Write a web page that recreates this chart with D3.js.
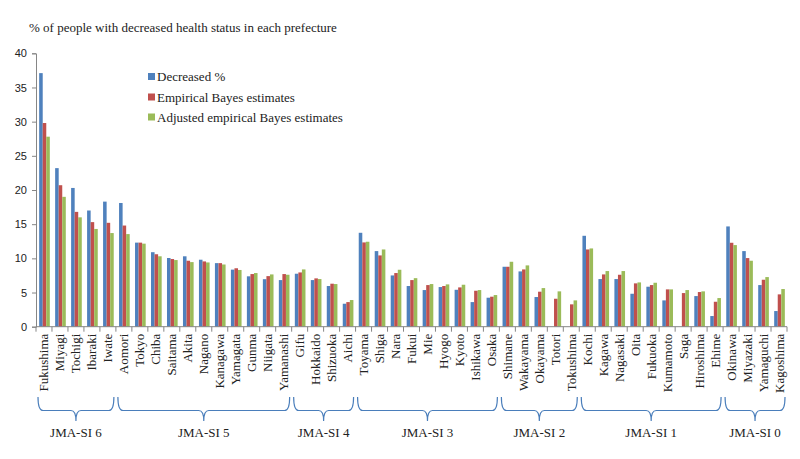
<!DOCTYPE html>
<html><head><meta charset="utf-8">
<script src="https://cdn.jsdelivr.net/npm/d3@7"></script>
<style>body{margin:0;background:#fff}svg{display:block}</style>
</head><body><svg id="c" width="800" height="459"></svg>
<script>
const categories = ["Fukushima","Miyagi","Tochigi","Ibaraki","Iwate","Aomori","Tokyo","Chiba","Saitama","Akita","Nagano","Kanagawa","Yamagata","Gunma","Niigata","Yamanashi","Gifu","Hokkaido","Shizuoka","Aichi","Toyama","Shiga","Nara","Fukui","Mie","Hyogo","Kyoto","Ishikawa","Osaka","Shimane","Wakayama","Okayama","Totori","Tokushima","Kochi","Kagawa","Nagasaki","Oita","Fukuoka","Kumamoto","Saga","Hiroshima","Ehime","Okinawa","Miyazaki","Yamaguchi","Kagoshima"];
const decreased = [37.1,23.2,20.3,17.0,18.3,18.1,12.3,10.9,10.05,10.3,9.8,9.3,8.35,7.37,6.95,6.82,7.75,6.82,5.95,3.36,13.74,11.06,7.5,5.95,5.36,5.8,5.4,3.6,4.24,8.77,8.09,4.34,0,0,13.3,6.97,6.97,4.82,5.85,3.85,0,4.48,1.56,14.67,11.06,6.09,2.29];
const ebEstimates = [29.8,20.7,16.8,15.3,15.2,14.8,12.3,10.6,9.9,9.65,9.55,9.3,8.55,7.7,7.4,7.7,7.94,7.07,6.29,3.6,12.33,10.43,7.85,6.82,6.09,5.95,5.75,5.26,4.39,8.77,8.38,5.12,4.09,3.27,11.3,7.65,7.6,6.34,6.09,5.46,4.92,5.07,3.65,12.28,10.04,6.87,4.73];
const adjEbEstimates = [27.8,19.0,16.0,14.3,13.7,13.55,12.15,10.3,9.75,9.45,9.4,9.1,8.3,7.85,7.65,7.6,8.38,6.97,6.24,3.9,12.43,11.3,8.33,7.1,6.24,6.19,6.14,5.36,4.63,9.5,8.97,5.65,5.17,3.85,11.45,8.14,8.14,6.48,6.43,5.46,5.36,5.17,4.19,11.94,9.65,7.26,5.51];
const seriesNames = ["Decreased %","Empirical Bayes estimates","Adjusted empirical Bayes estimates"];
const groupNames = ["JMA-SI 6","JMA-SI 5","JMA-SI 4","JMA-SI 3","JMA-SI 2","JMA-SI 1","JMA-SI 0"];
const groupFirst = ["Fukushima","Aomori","Gifu","Toyama","Shimane","Kochi","Okinawa"];
const groupLast = ["Iwate","Yamanashi","Aichi","Osaka","Tokushima","Ehime","Kagoshima"];
const yTicks = [0,5,10,15,20,25,30,35,40];
const titleText = "% of people with decreased health status in each prefecture";

const colors = ["#4F81BD","#C0504D","#9BBB59"];
const svg = d3.select("#c");
const mLeft = 36, mRight = 787, mTop = 53.3, mBottom = 326.7;
const serif = "'Liberation Serif','Times New Roman',serif";
const sans = "'Liberation Sans',Arial,sans-serif";

const x = d3.scaleBand().domain(categories).range([mLeft, mRight]).paddingInner(0).paddingOuter(0);
const y = d3.scaleLinear().domain([0, 40]).range([mBottom, mTop]);
const x1 = d3.scaleBand().domain(seriesNames).range([0, x.bandwidth()]).paddingOuter(0.75).paddingInner(0);

const data = [decreased, ebEstimates, adjEbEstimates];

// bars
const g = svg.append("g");
categories.forEach((c, i) => {
  seriesNames.forEach((s, k) => {
    const v = data[k][i];
    if (!v) return;
    g.append("rect")
      .attr("x", x(c) + x1(s) + 0.5)
      .attr("y", y(v))
      .attr("width", x1.bandwidth())
      .attr("height", y(0) - y(v))
      .attr("fill", colors[k]);
  });
});

// y axis
const yAxis = svg.append("g").attr("transform", `translate(${mLeft},0)`)
  .call(d3.axisLeft(y).tickValues(yTicks).tickSize(4).tickPadding(5));
yAxis.select(".domain").attr("stroke", "#868686");
yAxis.selectAll(".tick line").attr("stroke", "#868686");
yAxis.selectAll("text").attr("font-family", sans).attr("font-size", 11).attr("fill", "#222");

// x axis
const xAxisG = svg.append("g").attr("transform", `translate(0,${mBottom})`);
xAxisG.append("line").attr("x1", mLeft).attr("x2", mRight).attr("y1", 0).attr("y2", 0).attr("stroke", "#868686");
categories.concat(["__end"]).forEach((c, i) => {
  const xx = i < categories.length ? x(c) : mRight;
  xAxisG.append("line").attr("x1", xx).attr("x2", xx).attr("y1", 0).attr("y2", 5).attr("stroke", "#868686");
});
categories.forEach(c => {
  const cx = x(c) + x.bandwidth() / 2;
  xAxisG.append("text")
    .attr("transform", `translate(${cx + 4.5},7) rotate(-90)`)
    .attr("text-anchor", "end")
    .attr("font-family", serif).attr("font-size", 13).attr("fill", "#222")
    .text(c);
});

// title
svg.append("text").attr("x", 29).attr("y", 32).attr("font-family", serif).attr("font-size", 13).attr("fill", "#222").text(titleText);

// legend
const legY = [76.5, 97, 117];
seriesNames.forEach((s, k) => {
  svg.append("rect").attr("x", 148).attr("y", legY[k] - 3.5).attr("width", 7).attr("height", 7).attr("fill", colors[k]);
  svg.append("text").attr("x", 157).attr("y", legY[k] + 4.5).attr("font-family", serif).attr("font-size", 13).attr("fill", "#222").text(s);
});

// braces
groupNames.forEach((gname, j) => {
  const xa = x(groupFirst[j]) + 2;
  const xb = x(groupLast[j]) + x.bandwidth() - 2;
  const xm = (xa + xb) / 2;
  const yT = 397, yM = 410.5, yP = 421;
  const p = `M${xa},${yT} Q${xa},${yM} ${xa + 5},${yM} L${xm - 5},${yM} Q${xm},${yM} ${xm},${yP} Q${xm},${yM} ${xm + 5},${yM} L${xb - 5},${yM} Q${xb},${yM} ${xb},${yT}`;
  svg.append("path").attr("d", p).attr("fill", "none").attr("stroke", "#4A7EBB").attr("stroke-width", 1.2);
  svg.append("text").attr("x", xm).attr("y", 437).attr("text-anchor", "middle")
    .attr("font-family", serif).attr("font-size", 13).attr("fill", "#222").text(gname);
});
</script></body></html>
